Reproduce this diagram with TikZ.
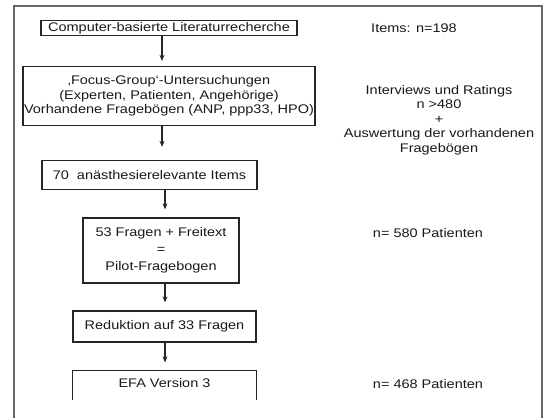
\documentclass[tikz,border=0pt]{standalone}
\usepackage{fontspec}
\setmainfont{Liberation Sans}[FakeStretch=1.16]
\usetikzlibrary{arrows.meta}
\begin{document}
\begin{tikzpicture}[x=1pt,y=-1pt,
  box/.style={draw=black!85,line width=1.3pt,inner sep=0pt,align=center,text=black!90,font=\fontsize{12.5}{14.6}\selectfont},
  info/.style={inner sep=0pt,align=center,text=black!90,font=\fontsize{12.5}{14.6}\selectfont},
  arr/.style={-{Stealth[length=6pt,width=5pt]},line width=1.3pt,black!85,shorten >=8pt}]
\useasboundingbox (0,0) rectangle (545,418);
\draw[black!60,line width=1.6pt] (14,418) -- (14,6) -- (542,6) -- (542,418);

\draw 	(169,28) node[box,minimum width=256pt,minimum height=15pt](b1){Computer-basierte Literaturrecherche}
		(169,96) node[box,minimum width=292pt,minimum height=59pt](b2){‚Focus-Group‘-Untersuchungen\\(Experten, Patienten, Angehörige)\\Vorhandene Fragebögen (ANP, ppp33, HPO)}
		(149.5,175) node[box,minimum width=215pt,minimum height=29pt](b3){70\ \ anästhesierelevante Items}
		(161,250.5) node[box,minimum width=156pt,minimum height=65pt,font=\fontsize{12.5}{17}\selectfont](b4){53 Fragen + Freitext\\=\\Pilot-Fragebogen}
		(164.5,326.5) node[box,minimum width=183pt,minimum height=31pt](b5){Reduktion auf 33 Fragen}
		(164.5,383) node[box,draw=none,minimum width=183pt,minimum height=24pt](b6){EFA Version 3};
% last box is cut off at the bottom
\coordinate (cut) at (0,400);
\draw[black!85,line width=1.3pt] (b6.north west |- cut) -- (b6.north west) -- (b6.north east) -- (b6.north east |- cut);

\draw 	(414,28) node[info](n1){Items: n=198}
		(439,120) node[info](n2){Interviews und Ratings\\n >480\\+\\Auswertung der vorhandenen\\Fragebögen}
		(428,233) node[info](n3){n= 580 Patienten}
		(428,384) node[info](n4){n= 468 Patienten};

\path[arr]
    (b1.south -| 162,0) edge[shorten >=5pt] (b2.north -| 162,0)
    (b2.south -| 162,0) edge[shorten >=13pt] (b3.north -| 162,0)
    (b3.south -| 165,0) edge (b4.north -| 165,0)
    (b4.south -| 165,0) edge (b5.north -| 165,0)
    (b5.south -| 165,0) edge (b6.north -| 165,0);
\end{tikzpicture}
\end{document}
